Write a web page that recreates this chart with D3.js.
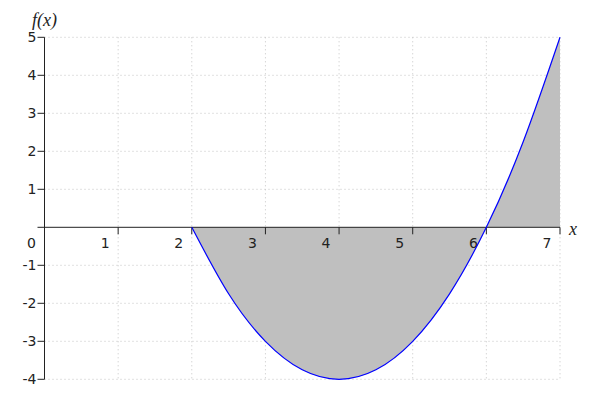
<!DOCTYPE html>
<html>
<head>
<meta charset="utf-8">
<script src="https://cdn.jsdelivr.net/npm/d3@7"></script>
<style>
  body { margin: 0; background: #fff; }
</style>
</head>
<body>
<div id="chart-area"></div>
<script>
// values
var xs = [2, 2.5, 3, 3.5, 4, 4.5, 5, 5.5, 6, 6.5, 7];
var ys = [0, -1.75, -3, -3.75, -4, -3.75, -3, -1.75, 0, 2.25, 5];
var xTicks = [1, 2, 3, 4, 5, 6, 7];
var yTicks = [-4, -3, -2, -1, 1, 2, 3, 4, 5];

var svg = d3.select("#chart-area")
    .append("svg")
    .attr("width", 600)
    .attr("height", 400);

var x = d3.scaleLinear().domain([0, 7]).range([44.5, 560]);
var y = d3.scaleLinear().domain([-4, 5]).range([379.3, 37.3]);

var pts = xs.map((d, i) => { return {x: d, y: ys[i]}; });

// grid
svg.append("g").selectAll("line").data(xTicks).enter()
    .append("line")
    .attr("x1", (d) => x(d)).attr("x2", (d) => x(d))
    .attr("y1", y(5)).attr("y2", y(-4))
    .attr("stroke", "#c4c4c4")
    .attr("stroke-dasharray", "1,3");
svg.append("g").selectAll("line").data(yTicks).enter()
    .append("line")
    .attr("x1", x(0)).attr("x2", x(7))
    .attr("y1", (d) => y(d)).attr("y2", (d) => y(d))
    .attr("stroke", "#c4c4c4")
    .attr("stroke-dasharray", "1,3");

// shaded area
var area = d3.area()
    .x((d) => x(d.x))
    .y0(y(0))
    .y1((d) => y(d.y))
    .curve(d3.curveNatural);
svg.append("path").datum(pts)
    .attr("d", area)
    .attr("fill", "#bfbfbf");

// axes
svg.append("line")
    .attr("x1", x(0) - 7).attr("x2", x(7))
    .attr("y1", y(0)).attr("y2", y(0))
    .attr("stroke", "#222").attr("stroke-width", 1);
svg.append("line")
    .attr("x1", x(0)).attr("x2", x(0))
    .attr("y1", y(5)).attr("y2", y(-4))
    .attr("stroke", "#222").attr("stroke-width", 1);

svg.append("g").selectAll("line").data(xTicks).enter()
    .append("line")
    .attr("x1", (d) => x(d)).attr("x2", (d) => x(d))
    .attr("y1", y(0)).attr("y2", y(0) + 7)
    .attr("stroke", "#222");
svg.append("g").selectAll("line").data(yTicks).enter()
    .append("line")
    .attr("x1", x(0) - 7).attr("x2", x(0))
    .attr("y1", (d) => y(d)).attr("y2", (d) => y(d))
    .attr("stroke", "#222");

svg.append("g").selectAll("text").data([0].concat(xTicks)).enter()
    .append("text")
    .attr("x", (d) => x(d) - 13)
    .attr("y", y(0) + 21)
    .attr("text-anchor", "middle")
    .style("font-family", "'DejaVu Sans', sans-serif")
    .style("font-size", "14px")
    .attr("fill", "#222")
    .text((d) => d);
svg.append("g").selectAll("text").data(yTicks).enter()
    .append("text")
    .attr("x", x(0) - 8)
    .attr("y", (d) => y(d) + 5)
    .attr("text-anchor", "end")
    .style("font-family", "'DejaVu Sans', sans-serif")
    .style("font-size", "14px")
    .attr("fill", "#222")
    .text((d) => d);

// curve
var line = d3.line()
    .x((d) => x(d.x))
    .y((d) => y(d.y))
    .curve(d3.curveNatural);
svg.append("path").datum(pts)
    .attr("d", line)
    .attr("fill", "none")
    .attr("stroke", "#0000ff")
    .attr("stroke-width", 1.2);

// axis titles
svg.append("text")
    .attr("x", 569).attr("y", 235)
    .style("font-family", "'Liberation Serif', 'DejaVu Serif', serif")
    .style("font-style", "italic")
    .style("font-size", "18px")
    .attr("fill", "#222")
    .text("x");
svg.append("text")
    .attr("x", 32).attr("y", 26)
    .style("font-family", "'Liberation Serif', 'DejaVu Serif', serif")
    .style("font-style", "italic")
    .style("font-size", "18px")
    .attr("fill", "#222")
    .text("f(x)");
</script>
</body>
</html>
